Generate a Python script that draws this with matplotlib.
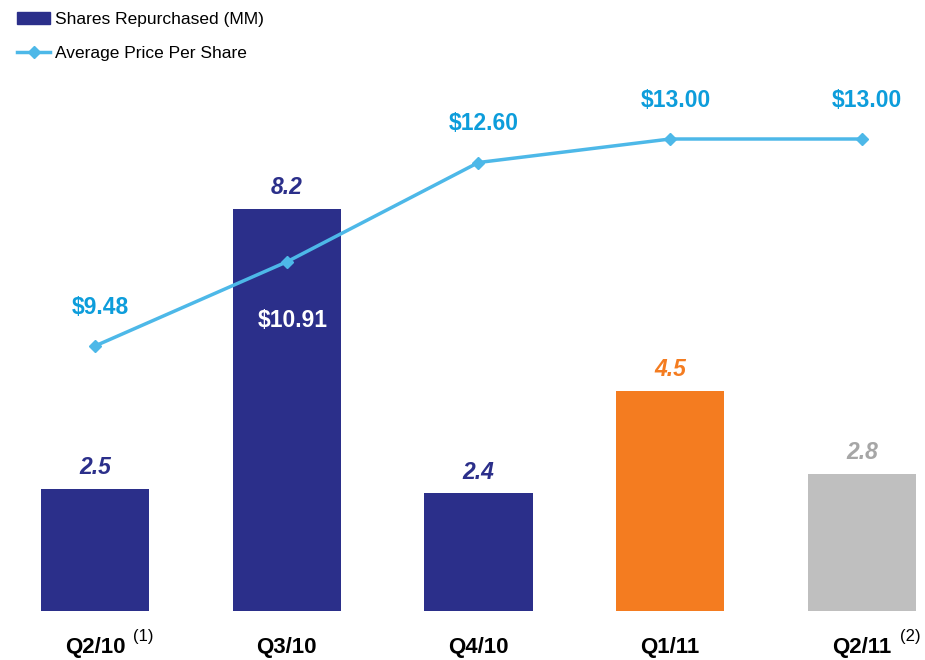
import matplotlib.pyplot as plt
from matplotlib.lines import Line2D
from matplotlib.patches import Patch

plt.rcParams['font.family'] = ['Liberation Sans', 'DejaVu Sans']

quarters = ["Q2/10", "Q3/10", "Q4/10", "Q1/11", "Q2/11"]
notes = ["(1)", "", "", "", "(2)"]
shares = [2.5, 8.2, 2.4, 4.5, 2.8]
prices = [9.48, 10.91, 12.60, 13.00, 13.00]

navy = "#2B2F8A"
bar_colors = [navy, navy, navy, "#F47C20", "#BFBFBF"]
label_colors = [navy, navy, navy, "#F47C20", "#A6A6A6"]
line_color = "#4DB8E8"
price_text = "#0D9DDB"

fig = plt.figure(figsize=(9.25, 6.6), dpi=100)
ax = fig.add_axes([0, 49 / 660, 1, 611 / 660])
x = list(range(len(quarters)))

ax.bar(x, shares, width=0.565, color=bar_colors, zorder=2)
ax.set_ylim(0, 611 / 49.0)
ax.set_xlim(-95 / 191.7, (925 - 95) / 191.7)
for s in ax.spines.values():
    s.set_visible(False)
ax.set_yticks([])
ax.set_xticks([])

for i, v in enumerate(shares):
    ax.annotate(f"{v:.1f}", (x[i], v), xytext=(0, 7), textcoords="offset points",
                ha="center", va="bottom", fontsize=16.5, fontweight="bold",
                fontstyle="italic", color=label_colors[i])

ax2 = ax.twinx()
ax2.plot(x, prices, color=line_color, lw=2.5, marker="D", markersize=6, zorder=3)
ax2.set_ylim(13 - (611 - 139) / 58.8, 13 + 139 / 58.8)
ax2.set_yticks([])
for s in ax2.spines.values():
    s.set_visible(False)

for i, p in enumerate(prices):
    if i == 1:
        ax2.annotate(f"${p:.2f}", (x[i], p), xytext=(4, -42), textcoords="offset points",
                     ha="center", va="center", fontsize=16.5, fontweight="bold", color="white")
    else:
        ax2.annotate(f"${p:.2f}", (x[i], p), xytext=(4, 28), textcoords="offset points",
                     ha="center", va="center", fontsize=16.5, fontweight="bold", color=price_text)

# category labels with footnote marks
for i, q in enumerate(quarters):
    fig.text((95 + i * 191.7) / 925, 12 / 660, q, ha="center", va="center",
             fontsize=16, fontweight="bold")
    if notes[i]:
        fig.text((95 + i * 191.7 + 38) / 925, 23 / 660, notes[i], ha="left",
                 va="center", fontsize=12)

handles = [Patch(color=navy, label="Shares Repurchased (MM)"),
           Line2D([0], [0], color=line_color, lw=2.5, marker="D", markersize=6,
                  label="Average Price Per Share")]
fig.legend(handles=handles, loc="upper left", bbox_to_anchor=(0.002, 1.005),
           frameon=False, fontsize=12.5, handlelength=1.85, labelspacing=1.05,
           handletextpad=0.3)

fig.savefig("out.png", dpi=100)
